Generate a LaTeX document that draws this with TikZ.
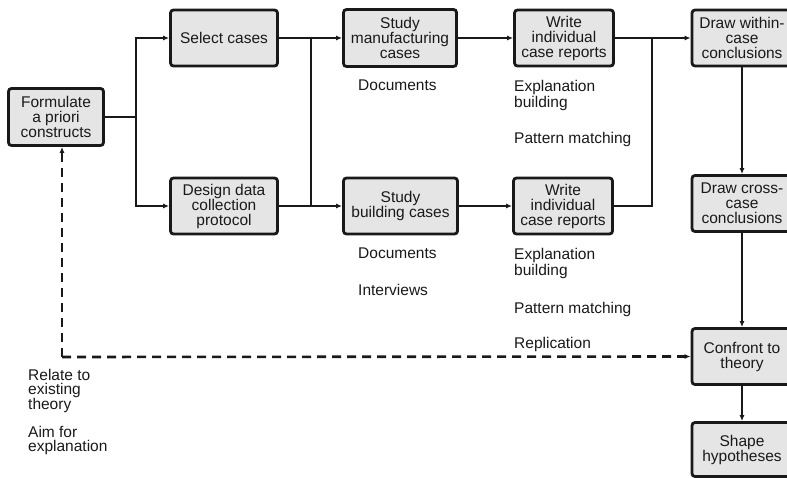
\documentclass[tikz,border=0pt]{standalone}
\usepackage{fontspec}
\setmainfont{Liberation Sans}
\usetikzlibrary{arrows.meta}

\begin{document}
\begin{tikzpicture}[x=1pt,y=-1pt,
  box/.style={draw=black!90, line width=2.8pt, fill=black!10, rounded corners=3pt,
    align=center, inner sep=0pt, font=\fontsize{15.5}{15}\selectfont, text=black!90},
  link/.style={line width=2.3pt, draw=black!90},
  arr/.style={link, -{Latex[length=6pt,width=5pt]}},
  fb/.style={line width=2.6pt, draw=black!90, dash pattern=on 9pt off 6pt,
    -{Latex[length=6pt,width=5pt]}},
  note/.style={align=left, anchor=north west, inner sep=0pt, text=black!90,
    font=\fontsize{15.5}{16.5}\selectfont},
  notetight/.style={note, font=\fontsize{15.5}{14.5}\selectfont},
]
\useasboundingbox (0,0) rectangle (787,478);
\clip (0,0) rectangle (787,478);

% process boxes
\node[box, minimum width=95pt, minimum height=57pt] (form) at (56,117) {Formulate\\a priori\\constructs};
\node[box, minimum width=107pt, minimum height=56pt] (sel) at (224,38) {Select cases};
\node[box, minimum width=107pt, minimum height=56pt] (des) at (224,206) {Design data\\collection\\protocol};
\node[box, minimum width=113pt, minimum height=57pt] (sm) at (400,38) {Study\\manufacturing\\cases};
\node[box, minimum width=114pt, minimum height=56pt] (sb) at (400.5,206) {Study\\building cases};
\node[box, minimum width=99pt, minimum height=56pt] (wt) at (564,38) {Write\\individual\\case reports};
\node[box, minimum width=99pt, minimum height=56pt] (wb) at (563,206) {Write\\individual\\case reports};
\node[box, minimum width=100pt, minimum height=56pt] (dw) at (742,38) {Draw within-\\case\\conclusions};
\node[box, minimum width=100pt, minimum height=56pt] (dc) at (742,203.5) {Draw cross-\\case\\conclusions};
\node[box, minimum width=100pt, minimum height=56pt] (conf) at (742,356.5) {Confront to\\theory};
\node[box, minimum width=100pt, minimum height=54pt] (shape) at (742,449.5) {Shape\\hypotheses};

% side notes
\node[note] (docA) at (358,80) {Documents};
\node[note] (expA) at (514,80) {Explanation\\building};
\node[note] (patA) at (514,132) {Pattern matching};
\node[note] (docB) at (358,248) {Documents};
\node[note] (intB) at (358,284) {Interviews};
\node[note] (expB) at (514,248) {Explanation\\building};
\node[note] (patB) at (514,302) {Pattern matching};
\node[note] (repB) at (514,337) {Replication};
\node[notetight] (rel) at (28,369) {Relate to\\existing\\theory};
\node[notetight] (aim) at (28,426) {Aim for\\explanation};

% junction lines
\coordinate (j1) at (136,0);
\coordinate (j2) at (311,0);
\coordinate (j3) at (652,0);
\coordinate (corner) at (62,357);

% connectors
\draw[link] (form.east) -- (j1 |- form.east);
\draw[arr] (j1 |- form.east) |- (sel.west);
\draw[arr] (j1 |- form.east) |- (des.west);
\draw[arr] (sel.east) -- (sm.west);
\draw[arr] (des.east) -- (sb.west);
\draw[link] (j2 |- sel.east) -- (j2 |- des.east);
\draw[arr] (sm.east) -- (wt.west);
\draw[arr] (sb.east) -- (wb.west);
\draw[arr] (wt.east) -- (dw.west);
\draw[link] (wb.east) -| (j3 |- wt.east);
\draw[arr] (dw.south) -- (dc.north);
\draw[arr] (dc.south) -- (conf.north);
\draw[arr] (conf.south) -- (shape.north);

% feedback to theory
\draw[fb] (corner) -- (conf.west);
\draw[fb] (corner) -- (corner |- form.south);
\end{tikzpicture}
\end{document}
